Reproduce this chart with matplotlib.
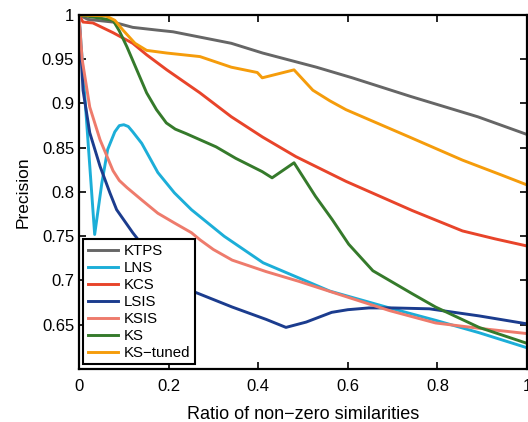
import matplotlib
matplotlib.use('Agg')
import matplotlib.pyplot as plt
from matplotlib.ticker import FuncFormatter

plt.rcParams['font.family'] = ['Liberation Sans', 'DejaVu Sans']

# values
ktps_x = [0, 0.02, 0.076, 0.12, 0.173, 0.21, 0.27, 0.34, 0.41, 0.53, 0.61, 0.74, 0.89, 1.0]
ktps_y = [1.0, 0.995, 0.992, 0.986, 0.983, 0.981, 0.975, 0.968, 0.957, 0.941, 0.929, 0.908, 0.885, 0.865]

lns_x = [0, 0.035, 0.051, 0.064, 0.08, 0.09, 0.1, 0.11, 0.12, 0.14, 0.176, 0.213, 0.251, 0.324, 0.411, 0.56, 0.693, 0.796, 0.893, 1.0]
lns_y = [1.0, 0.752, 0.81, 0.848, 0.868, 0.875, 0.876, 0.874, 0.868, 0.855, 0.822, 0.799, 0.78, 0.75, 0.72, 0.688, 0.669, 0.655, 0.641, 0.624]

kcs_x = [0, 0.009, 0.031, 0.076, 0.12, 0.151, 0.196, 0.27, 0.34, 0.41, 0.484, 0.596, 0.744, 0.856, 0.929, 1.0]
kcs_y = [1.0, 0.992, 0.991, 0.98, 0.968, 0.955, 0.938, 0.912, 0.885, 0.862, 0.84, 0.812, 0.779, 0.756, 0.747, 0.739]

lsis_x = [0, 0.009, 0.024, 0.047, 0.069, 0.084, 0.102, 0.12, 0.16, 0.2, 0.253, 0.342, 0.418, 0.462, 0.507, 0.564, 0.6, 0.647, 0.70, 0.782, 0.893, 1.0]
lsis_y = [1.0, 0.915, 0.867, 0.829, 0.799, 0.78, 0.767, 0.754, 0.728, 0.708, 0.688, 0.67, 0.656, 0.647, 0.653, 0.664, 0.667, 0.669, 0.669, 0.668, 0.66, 0.651]

ksis_x = [0, 0.007, 0.024, 0.047, 0.076, 0.09, 0.107, 0.14, 0.176, 0.213, 0.251, 0.27, 0.3, 0.342, 0.418, 0.491, 0.564, 0.693, 0.796, 0.893, 1.0]
ksis_y = [1.0, 0.95, 0.896, 0.859, 0.824, 0.813, 0.805, 0.791, 0.776, 0.765, 0.754, 0.746, 0.735, 0.723, 0.71, 0.699, 0.687, 0.666, 0.652, 0.646, 0.64]

ks_x = [0, 0.04, 0.076, 0.09, 0.107, 0.129, 0.151, 0.173, 0.195, 0.215, 0.239, 0.306, 0.35, 0.409, 0.431, 0.48, 0.528, 0.565, 0.602, 0.656, 0.744, 0.796, 0.893, 1.0]
ks_y = [1.0, 0.997, 0.994, 0.982, 0.964, 0.938, 0.912, 0.893, 0.878, 0.871, 0.866, 0.851, 0.838, 0.823, 0.816, 0.833, 0.795, 0.769, 0.741, 0.711, 0.685, 0.670, 0.647, 0.629]

kst_x = [0, 0.06, 0.08, 0.098, 0.125, 0.151, 0.196, 0.27, 0.34, 0.398, 0.409, 0.48, 0.522, 0.56, 0.596, 0.738, 0.856, 0.944, 1.0]
kst_y = [1.0, 0.999, 0.994, 0.983, 0.968, 0.96, 0.957, 0.953, 0.941, 0.935, 0.929, 0.938, 0.915, 0.903, 0.893, 0.862, 0.836, 0.819, 0.808]

series = [
    ('KTPS', ktps_x, ktps_y, '#666666'),
    ('LNS', lns_x, lns_y, '#1CAED8'),
    ('KCS', kcs_x, kcs_y, '#E8442A'),
    ('LSIS', lsis_x, lsis_y, '#1B3C8E'),
    ('KSIS', ksis_x, ksis_y, '#EE7B6C'),
    ('KS', ks_x, ks_y, '#357A2B'),
    ('KS\u2212tuned', kst_x, kst_y, '#F59C0B'),
]

fig = plt.figure(figsize=(5.28, 4.22), dpi=100)
ax = fig.add_axes([0.1496, 0.1256, 0.8485, 0.8389])

for label, xs, ys, c in series:
    ax.plot(xs, ys, color=c, lw=2.1, label=label, solid_joinstyle='round')

ax.set_xlim(0, 1)
ax.set_ylim(0.6, 1)
ax.set_xticks([0, 0.2, 0.4, 0.6, 0.8, 1])
ax.set_yticks([0.65, 0.7, 0.75, 0.8, 0.85, 0.9, 0.95, 1])
fmt = FuncFormatter(lambda v, p: '%g' % round(v, 2))
ax.xaxis.set_major_formatter(fmt)
ax.yaxis.set_major_formatter(fmt)
ax.tick_params(direction='in', top=True, right=True, length=5, width=1.2, labelsize=12)
ax.tick_params(axis='x', pad=7)
for s in ax.spines.values():
    s.set_linewidth(1.6)

ax.set_xlabel('Ratio of non\u2212zero similarities', fontsize=13, labelpad=9)
ax.set_ylabel('Precision', fontsize=12.5, labelpad=8)

leg = ax.legend(loc='lower left', fontsize=10.8, handlelength=2.0, labelspacing=0.2,
                handletextpad=0.4, borderpad=0.3, borderaxespad=0.3, fancybox=False,
                edgecolor='black', framealpha=1)
leg.get_frame().set_linewidth(1.5)

fig.savefig('out.png', dpi=100)
